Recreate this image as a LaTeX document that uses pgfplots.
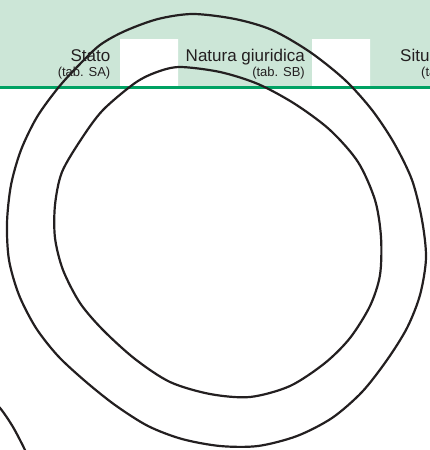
\documentclass[border=0pt]{standalone}
\usepackage{fontspec}
\setmainfont{Liberation Sans}
\usepackage{pgfplots}
\pgfplotsset{compat=1.18}

\definecolor{hdrgreen}{HTML}{CCE6D7}
\definecolor{rulegreen}{HTML}{00A263}
\definecolor{ink}{HTML}{231F20}

\begin{document}
\begin{tikzpicture}
\begin{axis}[
  scale only axis,
  width=430pt, height=450pt,
  xmin=0, xmax=430, ymin=0, ymax=450,
  y dir=reverse,
  hide axis,
  clip mode=global,
]
% header band
\addplot[fill=hdrgreen, draw=none] coordinates {(0,0) (430,0) (430,87) (0,87) (0,0)};
\addplot[fill=white, draw=none] coordinates {(120,39) (178,39) (178,87) (120,87) (120,39)};
\addplot[fill=white, draw=none] coordinates {(312,39) (370,39) (370,87) (312,87) (312,39)};
\addplot[rulegreen, line width=2.6pt] coordinates {(0,87.3) (430,87.3)};

% header labels
\node[anchor=base east, inner sep=0, text=ink, font=\fontsize{17}{20}\selectfont] at (axis cs:110.5,61) {Stato};
\node[anchor=base east, inner sep=0, text=ink, font=\fontsize{13}{15}\selectfont] at (axis cs:110.5,76) {(tab. SA)};
\node[anchor=base east, inner sep=0, text=ink, font=\fontsize{17}{20}\selectfont] at (axis cs:305,61) {Natura giuridica};
\node[anchor=base east, inner sep=0, text=ink, font=\fontsize{13}{15}\selectfont] at (axis cs:305,76) {(tab. SB)};
\node[anchor=base west, inner sep=0, text=ink, font=\fontsize{17}{20}\selectfont] at (axis cs:400,61) {Situazione};
\node[anchor=base west, inner sep=0, text=ink, font=\fontsize{13}{15}\selectfont] at (axis cs:421,76) {(tab. SC)};

% outer closed curve
\addplot[ink, line width=2.2pt, smooth cycle] coordinates {
  (193,14) (235,19) (272,30) (310,52) (345,80) (372,110) (394,143)
  (412,180) (422,220) (426,258) (420,295) (407,328) (387,360) (362,392)
  (332,418) (297,436) (258,446) (220,446) (182,439) (148,426) (115,405)
  (85,381) (58,356) (36,328) (19,295) (9,260) (7,223) (11,185)
  (21,150) (37,117) (58,88) (78,66) (100,45) (125,31) (158,19)
};
% inner closed curve
\addplot[ink, line width=2.2pt, smooth cycle] coordinates {
  (180,67) (220,72) (258,84) (295,104) (330,130) (358,162) (375,200)
  (381,237) (380,275) (370,306) (350,338) (325,363) (290,386) (250,397)
  (210,394) (170,382) (135,359) (103,330) (80,303) (63,270) (55,238)
  (55,205) (62,172) (82,138) (103,110) (135,83) (157,72)
};
% partial curve, lower left
\addplot[ink, line width=2.2pt, smooth] coordinates {
  (-12,398) (0,408) (13,427) (25,450) (32,466)
};
\end{axis}
\pgfresetboundingbox
\useasboundingbox (current axis.south west) rectangle (current axis.north east);
\end{tikzpicture}
\end{document}
